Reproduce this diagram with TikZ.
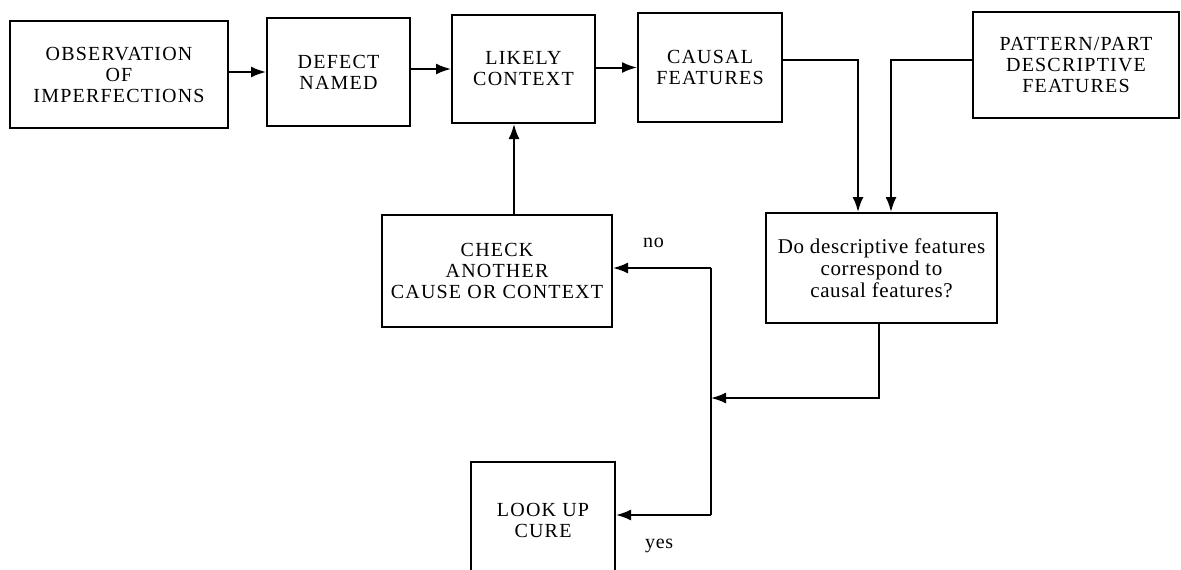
\documentclass[tikz,border=0pt]{standalone}
\usepackage{fontspec}
\setmainfont{Liberation Serif}
\newfontfamily\capsfont[LetterSpace=6]{Liberation Serif}
\newfontfamily\lowfont[LetterSpace=3]{Liberation Serif}
\usetikzlibrary{arrows.meta}
\begin{document}
\begin{tikzpicture}[x=1pt,y=-1pt,
  box/.style={draw, line width=2pt, rectangle, align=center, inner sep=0pt, font=\capsfont\fontsize{20}{21}\selectfont},
  qbox/.style={box, font=\lowfont\fontsize{21}{22}\selectfont},
  arr/.style={line width=2pt, -{Latex[length=15pt,width=11pt]}},
  ln/.style={line width=2pt},
  lbl/.style={font=\lowfont\fontsize{20}{22}\selectfont, inner sep=0pt}]
\useasboundingbox (0,0) rectangle (1181,570);
\clip (0,0) rectangle (1181,570);
\node[box, minimum width=218pt, minimum height=107pt] (b1) at (119,74.5) {OBSERVATION\\OF\\IMPERFECTIONS};
\node[box, minimum width=143pt, minimum height=108pt] (b2) at (338.5,72) {DEFECT\\NAMED};
\node[box, minimum width=143pt, minimum height=108pt] (b3) at (523.5,69) {LIKELY\\CONTEXT};
\node[box, minimum width=144pt, minimum height=109pt] (b4) at (710,67.5) {CAUSAL\\FEATURES};
\node[box, minimum width=206pt, minimum height=106pt] (b5) at (1076,65) {PATTERN/PART\\DESCRIPTIVE\\FEATURES};
\node[box, minimum width=230pt, minimum height=112pt] (b6) at (497,271) {CHECK\\ANOTHER\\CAUSE OR CONTEXT};
\node[qbox, minimum width=231pt, minimum height=110pt] (b7) at (881.5,268) {Do descriptive features\\correspond to\\causal features?};
\node[box, minimum width=144pt, minimum height=116pt] (b8) at (543,520) {LOOK UP\\CURE};
\coordinate (jn) at (711,268);
\coordinate (jm) at (711,398);
\coordinate (jy) at (711,515);
\draw[arr] (b1.east |- b2.west) -- (b2.west);
\draw[arr] (b2.east |- b3.west) -- (b3.west);
\draw[arr] (b3.east |- b4.west) -- (b4.west);
\draw[arr] ([yshift=7.5pt]b4.east) -| ([xshift=-23.5pt]b7.north);
\draw[arr] ([yshift=5pt]b5.west) -| ([xshift=9.5pt]b7.north);
\draw[arr] ([xshift=-2.5pt]b7.south) |- (jm);
\draw[ln] (jn) -- (jy);
\draw[arr] (jn) -- (jn -| b6.east);
\draw[arr] (jy) -- (jy -| b8.east);
\draw[arr] ([xshift=17pt]b6.north) -- ([xshift=17pt]b6.north |- b3.south);
\node[lbl, anchor=base west] (no) at (643,247) {no};
\node[lbl, anchor=base west] (yes) at (645,548) {yes};
\end{tikzpicture}
\end{document}
